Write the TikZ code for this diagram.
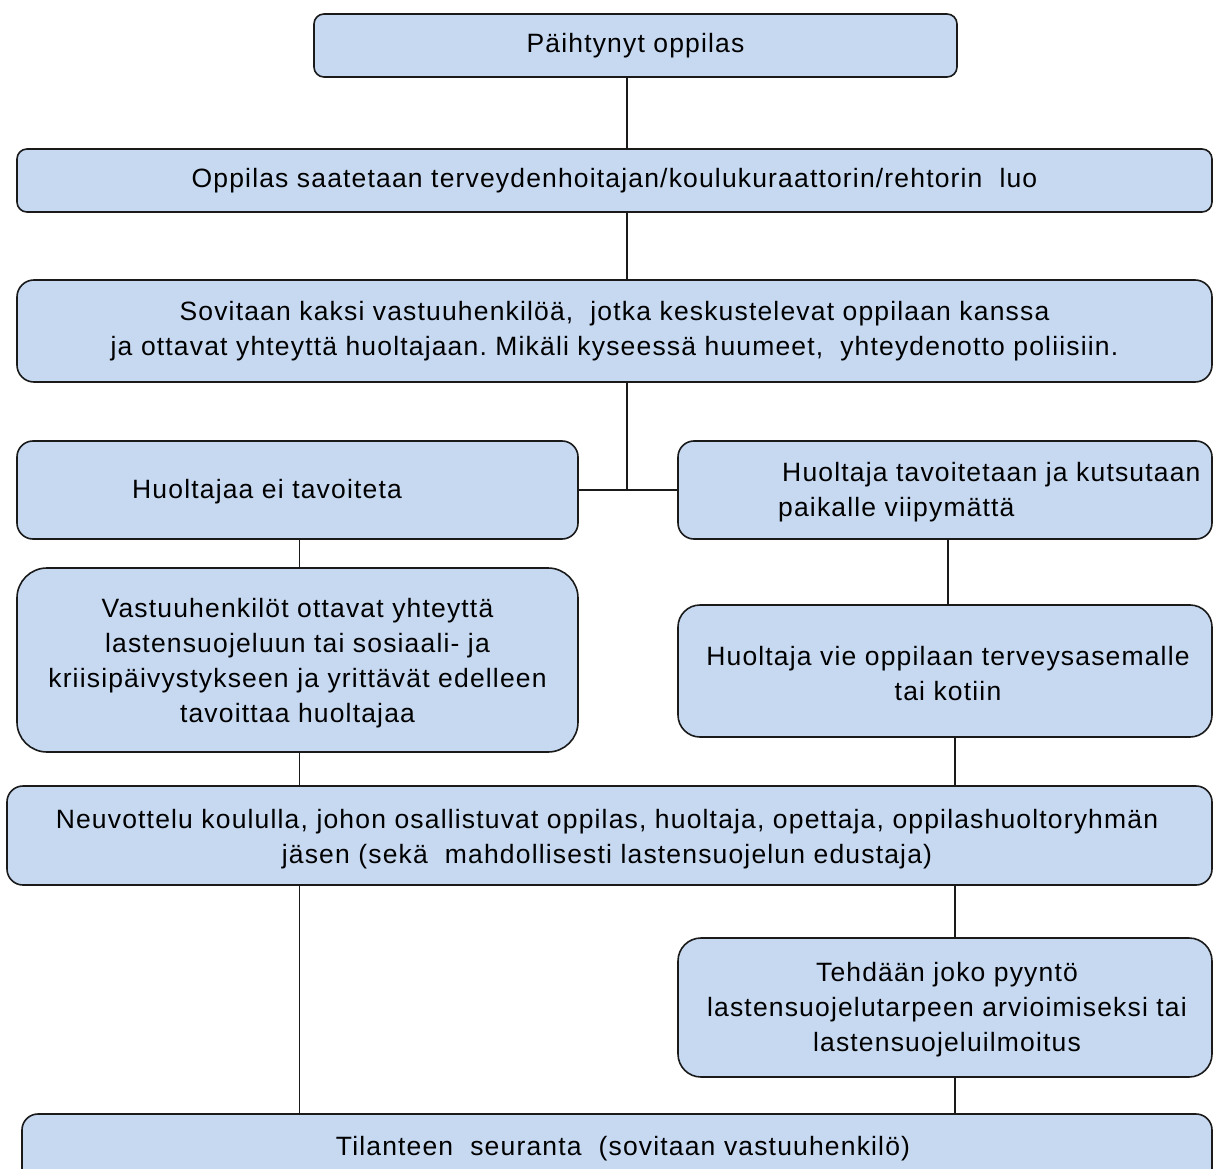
\documentclass[tikz,border=0pt]{standalone}
\usepackage{fontspec}
\setmainfont[LetterSpace=4.4]{Liberation Sans}
\definecolor{boxfill}{HTML}{C6D9F1}
\definecolor{boxline}{HTML}{1A1A1A}
\frenchspacing
\begin{document}
\begin{tikzpicture}[x=1pt, y=-1pt,
    flowbox/.style={draw=boxline, fill=boxfill, line width=1.6pt,
      rounded corners=#1, inner sep=0pt, align=center,
      font=\fontsize{26.5}{35}\selectfont},
    flowbox/.default=12pt,
    flowtext/.style={inner sep=0pt, align=left,
      font=\fontsize{26.5}{35}\selectfont},
    link/.style={draw=boxline, line width=1.6pt}]
  \useasboundingbox (0,0) rectangle (1213,1169);
  \clip (0,0) rectangle (1213,1169);

  % Columns used by the connectors
  \coordinate (spine) at (627,0);
  \coordinate (lcol) at (299.5,0);
  \coordinate (rtop) at (948,0);
  \coordinate (rcol) at (955,0);

  % The boxes, top to bottom
  \node [flowbox=10pt, minimum width=643pt, minimum height=63pt] (start)
    at (635.5,45.5) {\raisebox{-2pt}{Päihtynyt oppilas}};
  \node [flowbox=10pt, minimum width=1195pt, minimum height=63pt] (escort)
    at (614.5,180.5)
    {\raisebox{-2pt}{Oppilas saatetaan terveydenhoitajan/koulukuraattorin/rehtorin\ \ luo}};
  \node [flowbox=17pt, minimum width=1195pt, minimum height=102pt] (agree)
    at (614.5,331)
    {Sovitaan kaksi vastuuhenkilöä,\ \ jotka keskustelevat\ oppilaan kanssa\\
     ja ottavat yhteyttä huoltajaan. Mikäli kyseessä huumeet,\ \ yhteydenotto poliisiin.};

  % Left branch
  \node [flowbox=16pt, minimum width=561pt, minimum height=98pt] (noreach)
    at (297.5,490) {};
  \node [flowtext, anchor=west] (noreachtxt) at (132,492)
    {Huoltajaa ei tavoiteta};
  \node [flowbox=30pt, minimum width=561pt, minimum height=184pt] (contact)
    at (297.5,660) {};
  \node [flowtext, align=center] (contacttxt) at (297.5,663)
    {Vastuuhenkilöt ottavat yhteyttä\\
     lastensuojeluun tai sosiaali- ja\\
     kriisipäivystykseen ja yrittävät edelleen\\
     tavoittaa huoltajaa};

  % Right branch
  \node [flowbox=16pt, minimum width=534pt, minimum height=98pt] (reach)
    at (945,490) {};
  \node [flowtext, anchor=west] (reachtxt) at (778,492)
    {\hspace*{4pt}Huoltaja tavoitetaan ja kutsutaan\\paikalle viipymättä};
  \node [flowbox=22pt, minimum width=534pt, minimum height=132pt] (takes)
    at (945,671) {};
  \node [flowtext, align=center] (takestxt) at (948,674)
    {Huoltaja vie oppilaan terveysasemalle\\tai kotiin};

  % Meeting and what follows
  \node [flowbox=16pt, minimum width=1205pt, minimum height=99pt] (meeting)
    at (609.5,835.5) {};
  \node [flowtext, align=center] (meetingtxt) at (607,839)
    {Neuvottelu koululla, johon osallistuvat oppilas, huoltaja, opettaja, oppilashuoltoryhmän\\
     jäsen (sekä\ \ mahdollisesti lastensuojelun edustaja)};
  \node [flowbox=23pt, minimum width=534pt, minimum height=139pt] (report)
    at (945,1007.5) {};
  \node [flowtext, align=center] (reporttxt) at (947,1010)
    {Tehdään joko pyyntö\\
     lastensuojelutarpeen arvioimiseksi tai\\
     lastensuojeluilmoitus};
  \node [flowbox=16pt, minimum width=1190pt, minimum height=86pt] (follow)
    at (617,1157) {};
  \node [flowtext, anchor=center] (followtxt) at (623,1149)
    {Tilanteen\ \ seuranta\ \ (sovitaan vastuuhenkilö)};

  % Connectors
  \draw [link] (start.south -| spine) -- (escort.north -| spine);
  \draw [link] (escort.south -| spine) -- (agree.north -| spine);
  \draw [link] (agree.south -| spine) -- (spine |- noreach.east);
  \draw [link] (noreach.east) -- (reach.west);
  \draw [link] (noreach.south -| lcol) -- (contact.north -| lcol);
  \draw [link] (reach.south -| rtop) -- (takes.north -| rtop);
  \draw [link] (contact.south -| lcol) -- (meeting.north -| lcol);
  \draw [link] (takes.south -| rcol) -- (meeting.north -| rcol);
  \draw [link] (meeting.south -| lcol) -- (follow.north -| lcol);
  \draw [link] (meeting.south -| rcol) -- (report.north -| rcol);
  \draw [link] (report.south -| rcol) -- (follow.north -| rcol);
\end{tikzpicture}
\end{document}
